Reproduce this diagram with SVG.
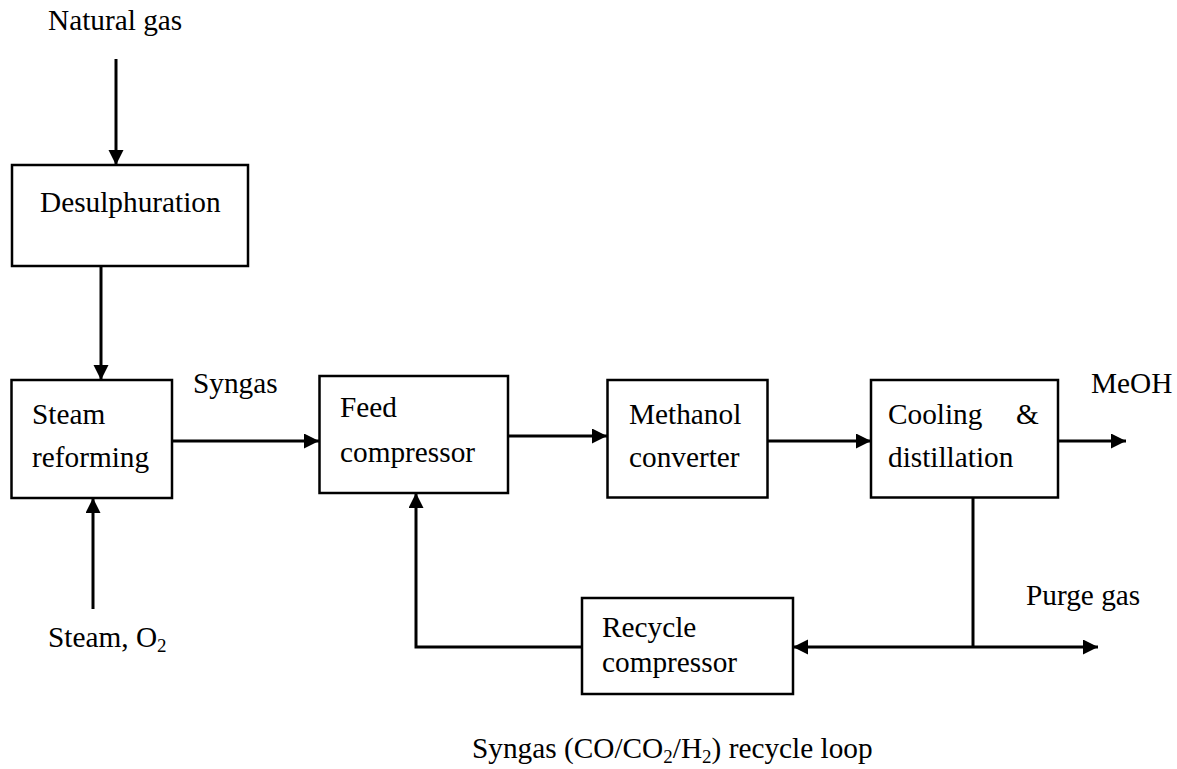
<svg xmlns="http://www.w3.org/2000/svg" width="1177" height="769" viewBox="0 0 1177 769">
<style>
.box{fill:#fff;stroke:#000;stroke-width:2.5}
.ln{fill:none;stroke:#000;stroke-width:3}
text{font-family:"Liberation Serif","Times New Roman",serif;font-size:29.3px;fill:#000}
.sub{font-size:19px}
</style>
<defs>
<marker id="ah" markerUnits="userSpaceOnUse" markerWidth="16" markerHeight="16" refX="15" refY="7.5" orient="auto">
<path d="M0,0 L15,7.5 L0,15 z" fill="#000"/>
</marker>
</defs>
<rect width="1177" height="769" fill="#fff"/>
<g id="connectors">
<line class="ln" x1="116" y1="59" x2="116" y2="165" marker-end="url(#ah)"/>
<line class="ln" x1="101" y1="266" x2="101" y2="380" marker-end="url(#ah)"/>
<line class="ln" x1="93" y1="609" x2="93" y2="498" marker-end="url(#ah)"/>
<line class="ln" x1="172" y1="441" x2="319" y2="441" marker-end="url(#ah)"/>
<line class="ln" x1="508" y1="436" x2="607" y2="436" marker-end="url(#ah)"/>
<line class="ln" x1="767" y1="441" x2="871" y2="441" marker-end="url(#ah)"/>
<line class="ln" x1="1058" y1="441" x2="1126" y2="441" marker-end="url(#ah)"/>
<polyline class="ln" points="973,497 973,647"/>
<line class="ln" x1="973" y1="647" x2="793" y2="647" marker-end="url(#ah)"/>
<line class="ln" x1="973" y1="647" x2="1098" y2="647" marker-end="url(#ah)"/>
<polyline class="ln" points="582,647 416,647 416,493" marker-end="url(#ah)"/>
</g>
<g id="desulphuration">
<rect class="box" x="12" y="165" width="236" height="101"/>
<text x="40" y="212">Desulphuration</text>
</g>
<g id="steam-reforming">
<rect class="box" x="11.5" y="380" width="160.5" height="118"/>
<text x="32" y="424">Steam</text>
<text x="32" y="467">reforming</text>
</g>
<g id="feed-compressor">
<rect class="box" x="319.5" y="376" width="188.5" height="117"/>
<text x="340" y="417">Feed</text>
<text x="340" y="462">compressor</text>
</g>
<g id="methanol-converter">
<rect class="box" x="607.5" y="380" width="160" height="117.5"/>
<text x="629" y="424">Methanol</text>
<text x="629" y="467">converter</text>
</g>
<g id="cooling-distillation">
<rect class="box" x="871" y="380" width="187" height="117.5"/>
<text x="888" y="424">Cooling</text>
<text x="1016" y="424">&amp;</text>
<text x="888" y="467">distillation</text>
</g>
<g id="recycle-compressor">
<rect class="box" x="582" y="598" width="211" height="96"/>
<text x="602" y="637">Recycle</text>
<text x="602" y="672">compressor</text>
</g>
<g id="labels">
<text x="48" y="30">Natural gas</text>
<text x="48" y="647">Steam, O<tspan class="sub" dy="5">2</tspan></text>
<text x="193" y="393">Syngas</text>
<text x="1091" y="393">MeOH</text>
<text x="1026" y="605">Purge gas</text>
<text x="472" y="758">Syngas (CO/CO<tspan class="sub" dy="5">2</tspan><tspan dy="-5">/H</tspan><tspan class="sub" dy="5">2</tspan><tspan dy="-5">) recycle loop</tspan></text>
</g>
</svg>
